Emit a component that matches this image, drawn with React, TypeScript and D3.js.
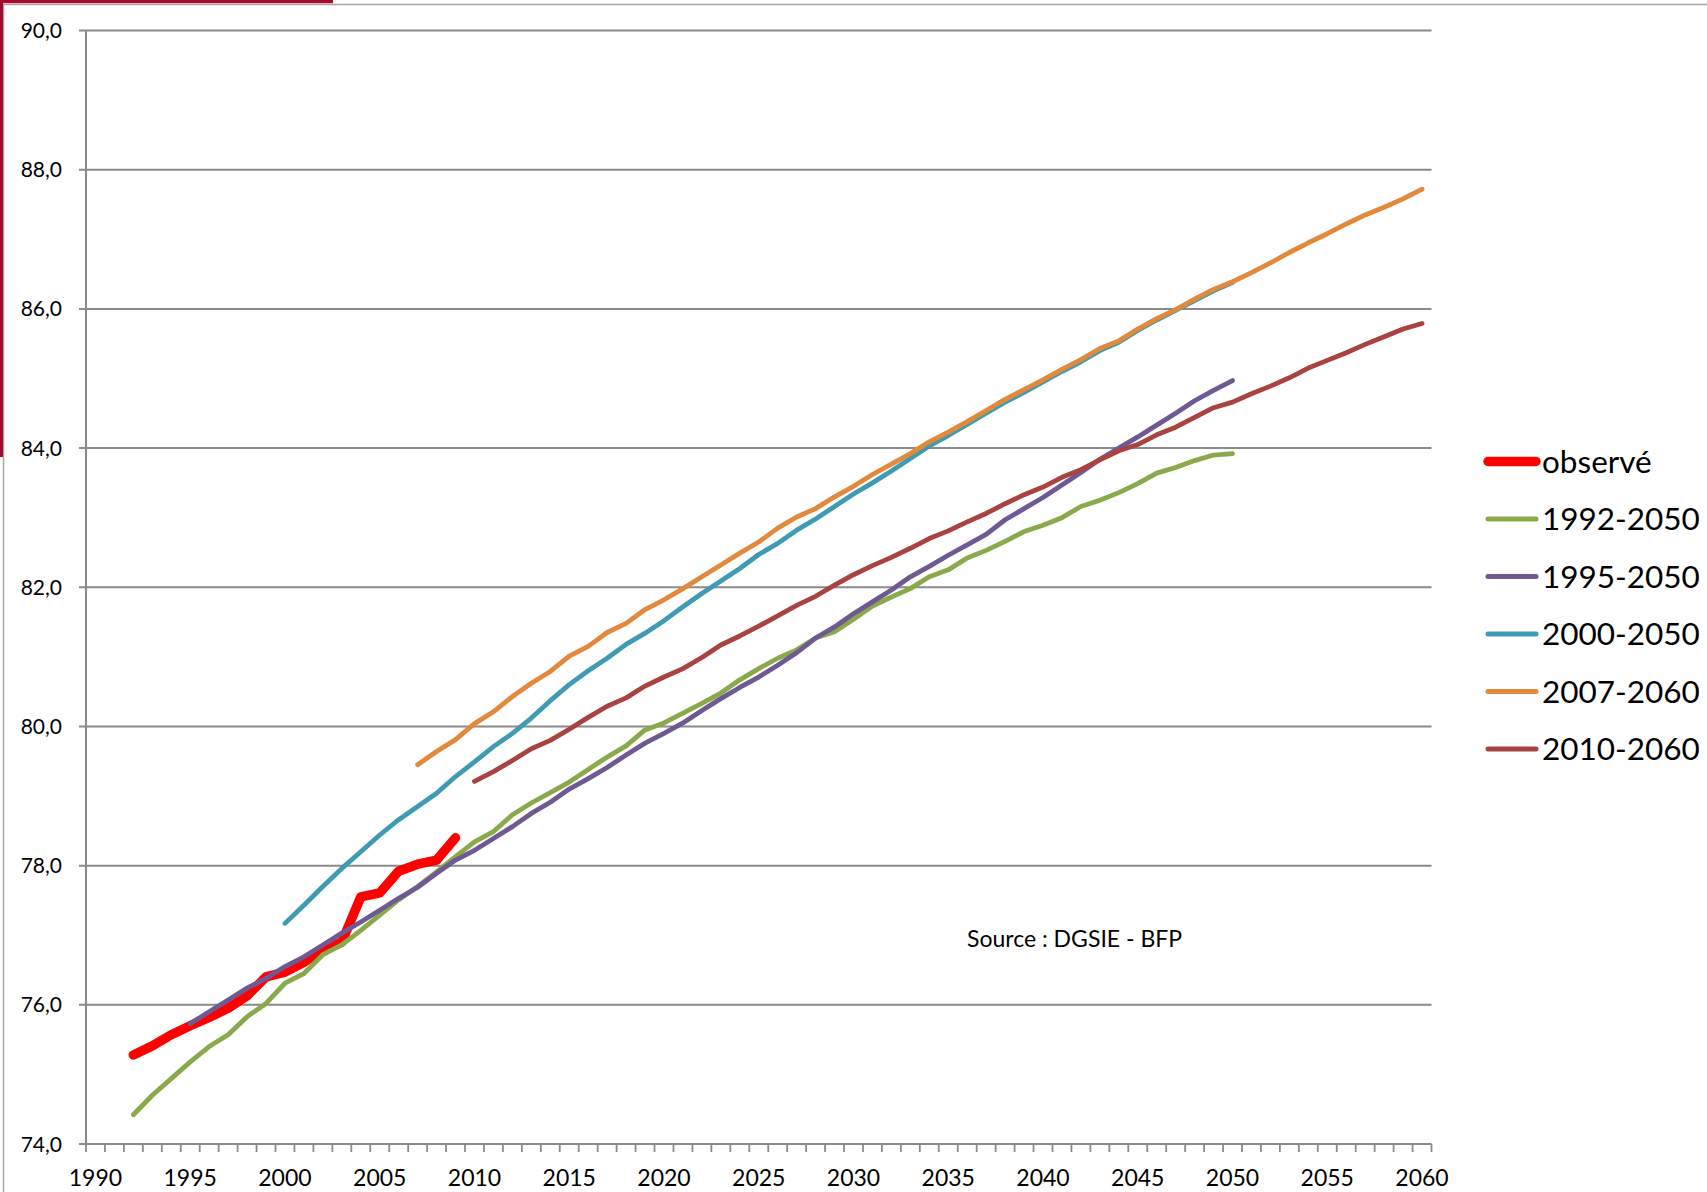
import React from "react";
import * as d3 from "d3";

const W = 1707;
const H = 1192;

const yTicks = [74, 76, 78, 80, 82, 84, 86, 88, 90];
const xLabelYears = [1990, 1995, 2000, 2005, 2010, 2015, 2020, 2025, 2030, 2035, 2040, 2045, 2050, 2055, 2060];

const observeStart = 1992;
const observe = [75.28, 75.41, 75.57, 75.7, 75.82, 75.95, 76.13, 76.4, 76.47, 76.61, 76.79, 76.9, 77.55, 77.61, 77.92, 78.02, 78.08, 78.4];

const p1992Start = 1992;
const p1992 = [74.42, 74.7, 74.94, 75.18, 75.4, 75.57, 75.83, 76.02, 76.31, 76.45, 76.72, 76.86, 77.07, 77.29, 77.51, 77.7, 77.91, 78.13, 78.34, 78.49, 78.73, 78.9, 79.05, 79.2, 79.38, 79.56, 79.72, 79.95, 80.05, 80.19, 80.33, 80.48, 80.67, 80.83, 80.98, 81.1, 81.27, 81.36, 81.54, 81.73, 81.86, 81.98, 82.15, 82.25, 82.42, 82.53, 82.66, 82.8, 82.89, 83.0, 83.16, 83.25, 83.36, 83.49, 83.64, 83.72, 83.82, 83.9, 83.92];

const p1995Start = 1995;
const p1995 = [75.73, 75.9, 76.07, 76.24, 76.38, 76.55, 76.69, 76.86, 77.03, 77.19, 77.36, 77.53, 77.69, 77.89, 78.08, 78.22, 78.39, 78.56, 78.75, 78.91, 79.1, 79.25, 79.41, 79.59, 79.76, 79.9, 80.05, 80.23, 80.4, 80.56, 80.71, 80.88, 81.06, 81.27, 81.43, 81.62, 81.79, 81.96, 82.15, 82.3, 82.46, 82.61, 82.76, 82.97, 83.13, 83.29, 83.47, 83.65, 83.84, 84.0, 84.16, 84.33, 84.5, 84.68, 84.83, 84.97];

const p2000Start = 2000;
const p2000 = [77.17, 77.43, 77.7, 77.96, 78.2, 78.44, 78.66, 78.85, 79.04, 79.28, 79.49, 79.71, 79.9, 80.12, 80.37, 80.6, 80.8, 80.98, 81.18, 81.34, 81.52, 81.72, 81.91, 82.09, 82.27, 82.47, 82.63, 82.82, 82.98, 83.16, 83.34, 83.5, 83.67, 83.85, 84.03, 84.18, 84.34, 84.5, 84.66, 84.8, 84.95, 85.1, 85.24, 85.4, 85.52, 85.69, 85.84, 85.98, 86.12, 86.26, 86.38];

const p2007Start = 2007;
const p2007 = [79.45, 79.64, 79.81, 80.04, 80.21, 80.43, 80.62, 80.79, 81.01, 81.15, 81.35, 81.48, 81.68, 81.82, 81.98, 82.15, 82.32, 82.49, 82.65, 82.85, 83.01, 83.13, 83.3, 83.45, 83.62, 83.77, 83.92, 84.09, 84.23, 84.38, 84.54, 84.7, 84.84, 84.98, 85.13, 85.27, 85.43, 85.54, 85.71, 85.86, 85.99, 86.14, 86.28, 86.39, 86.52, 86.66, 86.81, 86.95, 87.08, 87.22, 87.35, 87.46, 87.58, 87.72];

const p2010Start = 2010;
const p2010 = [79.21, 79.35, 79.51, 79.68, 79.8, 79.96, 80.13, 80.29, 80.41, 80.58, 80.71, 80.83, 80.99, 81.17, 81.3, 81.44, 81.59, 81.74, 81.87, 82.03, 82.18, 82.31, 82.43, 82.56, 82.7, 82.81, 82.94, 83.06, 83.2, 83.33, 83.44, 83.58, 83.69, 83.83, 83.96, 84.05, 84.19, 84.3, 84.44, 84.58, 84.66, 84.78, 84.89, 85.01, 85.15, 85.26, 85.37, 85.49, 85.6, 85.71, 85.79];

const seriesNames = ["observé", "1992-2050", "1995-2050", "2000-2050", "2007-2060", "2010-2060"];
const seriesColors = ["#ff0000", "#8aa94b", "#6f5993", "#3f9bb3", "#e2893b", "#a8433f"];
const seriesStarts = [observeStart, p1992Start, p1995Start, p2000Start, p2007Start, p2010Start];
const seriesValues = [observe, p1992, p1995, p2000, p2007, p2010];

const sourceText = "Source : DGSIE - BFP";

export default function App() {
  const x = d3.scaleLinear().domain([1989.5, 2060.5]).range([86, 1431.5]);
  const y = d3.scaleLinear().domain([74, 90]).range([1144, 30.5]);
  const font = "Lato, 'Open Sans', sans-serif";
  const gridColor = "#8a8a8a";

  const line = d3
    .line<[number, number]>()
    .x((d) => x(d[0]))
    .y((d) => y(d[1]));

  const series = seriesNames.map((name, i) => ({
    name,
    color: seriesColors[i],
    width: i === 0 ? 9.5 : 4.8,
    pts: seriesValues[i].map((v, k) => [seriesStarts[i] + k, v] as [number, number]),
  }));

  const boundaries = d3.range(1990, 2062).map((yr) => x(yr - 0.5));

  const legendY0 = 461.5;
  const legendStep = 57.5;

  return (
    <svg
      width={W}
      height={H}
      style={{ position: "absolute", left: 0, top: 0, background: "#fff" }}
    >
      <rect x={0} y={0} width={W} height={H} fill="#fff" />
      {/* frame */}
      <path d={`M3.5,${H} L3.5,4.5 L${W},4.5`} fill="none" stroke="#a6a6a6" strokeWidth={1.5} />
      <rect x={0} y={0} width={333} height={3.2} fill="#a50a2f" />
      <rect x={0} y={0} width={3} height={457} fill="#a50a2f" />

      {/* gridlines */}
      {yTicks.map((t) => (
        <line key={t} x1={79} x2={1431.5} y1={y(t)} y2={y(t)} stroke={gridColor} strokeWidth={2} />
      ))}
      {/* y axis */}
      <line x1={86} x2={86} y1={y(90)} y2={y(74)} stroke={gridColor} strokeWidth={2} />
      {/* x ticks */}
      {boundaries.map((bx, i) => (
        <line key={i} x1={bx} x2={bx} y1={y(74)} y2={y(74) + 8} stroke={gridColor} strokeWidth={1.8} />
      ))}
      {/* y labels */}
      {yTicks.map((t) => (
        <text
          key={t}
          x={62}
          y={y(t)}
          dy="0.36em"
          textAnchor="end"
          fontFamily={font}
          fontSize={21}
          fill="#000"
        >
          {t.toFixed(1).replace(".", ",")}
        </text>
      ))}
      {/* x labels */}
      {xLabelYears.map((yr) => (
        <text
          key={yr}
          x={x(yr)}
          y={1186}
          textAnchor="middle"
          fontFamily={font}
          fontSize={23}
          fill="#000"
        >
          {yr}
        </text>
      ))}

      {/* series */}
      {series.map((s) => (
        <path
          key={s.name}
          d={line(s.pts) || ""}
          fill="none"
          stroke={s.color}
          strokeWidth={s.width}
          strokeLinejoin="round"
          strokeLinecap="round"
        />
      ))}

      {/* source */}
      <text x={967} y={947} fontFamily={font} fontSize={23} fill="#000">
        {sourceText}
      </text>

      {/* legend */}
      {series.map((s, i) => {
        const ly = legendY0 + i * legendStep;
        return (
          <g key={s.name}>
            <line
              x1={1488}
              x2={1536}
              y1={ly}
              y2={ly}
              stroke={s.color}
              strokeWidth={i === 0 ? 9.5 : 5}
              strokeLinecap="round"
            />
            <text x={1542} y={ly} dy="0.36em" fontFamily={font} fontSize={31.5} fill="#000">
              {s.name}
            </text>
          </g>
        );
      })}
    </svg>
  );
}
